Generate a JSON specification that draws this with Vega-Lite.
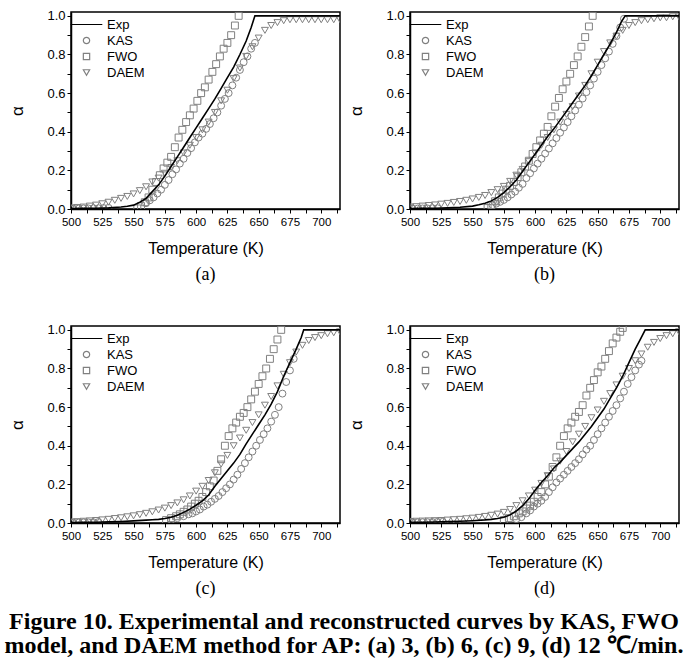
{
"$schema": "https://vega.github.io/schema/vega-lite/v6.json",
"padding": {"left": 3, "top": 9, "right": 0, "bottom": 0},
"background": "white",
"datasets": {
"a": [
{"s":"Exp","t":500,"v":0.002},{"s":"Exp","t":510,"v":0.003},{"s":"Exp","t":520,"v":0.004},{"s":"Exp","t":530,"v":0.006},{"s":"Exp","t":540,"v":0.01},{"s":"Exp","t":545,"v":0.014},{"s":"Exp","t":550,"v":0.02},{"s":"Exp","t":555,"v":0.035},{"s":"Exp","t":560,"v":0.055},{"s":"Exp","t":565,"v":0.09},{"s":"Exp","t":570,"v":0.125},{"s":"Exp","t":575,"v":0.17},{"s":"Exp","t":580,"v":0.22},{"s":"Exp","t":585,"v":0.27},{"s":"Exp","t":590,"v":0.32},{"s":"Exp","t":595,"v":0.37},{"s":"Exp","t":600,"v":0.42},{"s":"Exp","t":605,"v":0.47},{"s":"Exp","t":610,"v":0.52},{"s":"Exp","t":615,"v":0.57},{"s":"Exp","t":620,"v":0.625},{"s":"Exp","t":625,"v":0.68},{"s":"Exp","t":630,"v":0.735},{"s":"Exp","t":635,"v":0.8},{"s":"Exp","t":640,"v":0.87},{"s":"Exp","t":644,"v":0.94},{"s":"Exp","t":647,"v":1.0},{"s":"Exp","t":680,"v":1.0},{"s":"Exp","t":715,"v":1.0},
{"s":"KAS","t":502,"v":0.002},{"s":"KAS","t":506,"v":0.002},{"s":"KAS","t":510,"v":0.003},{"s":"KAS","t":514,"v":0.003},{"s":"KAS","t":518,"v":0.004},{"s":"KAS","t":522,"v":0.004},{"s":"KAS","t":526,"v":0.005},{"s":"KAS","t":530,"v":0.006},{"s":"KAS","t":560,"v":0.03},{"s":"KAS","t":563,"v":0.045},{"s":"KAS","t":566,"v":0.06},{"s":"KAS","t":569,"v":0.08},{"s":"KAS","t":572,"v":0.1},{"s":"KAS","t":575,"v":0.125},{"s":"KAS","t":578,"v":0.15},{"s":"KAS","t":581,"v":0.18},{"s":"KAS","t":584,"v":0.205},{"s":"KAS","t":587,"v":0.235},{"s":"KAS","t":590,"v":0.26},{"s":"KAS","t":593,"v":0.29},{"s":"KAS","t":596,"v":0.315},{"s":"KAS","t":599,"v":0.345},{"s":"KAS","t":602,"v":0.37},{"s":"KAS","t":605,"v":0.39},{"s":"KAS","t":608,"v":0.415},{"s":"KAS","t":611,"v":0.44},{"s":"KAS","t":614,"v":0.47},{"s":"KAS","t":617,"v":0.5},{"s":"KAS","t":620,"v":0.535},{"s":"KAS","t":623,"v":0.57},{"s":"KAS","t":626,"v":0.6},{"s":"KAS","t":629,"v":0.64},{"s":"KAS","t":632,"v":0.68},{"s":"KAS","t":635,"v":0.72},{"s":"KAS","t":638,"v":0.76},{"s":"KAS","t":641,"v":0.79},{"s":"KAS","t":644,"v":0.83},{"s":"KAS","t":647,"v":0.86},
{"s":"FWO","t":553,"v":0.003},{"s":"FWO","t":556,"v":0.015},{"s":"FWO","t":559,"v":0.035},{"s":"FWO","t":562,"v":0.06},{"s":"FWO","t":565,"v":0.1},{"s":"FWO","t":568,"v":0.14},{"s":"FWO","t":571,"v":0.175},{"s":"FWO","t":574,"v":0.21},{"s":"FWO","t":577,"v":0.24},{"s":"FWO","t":580,"v":0.27},{"s":"FWO","t":583,"v":0.32},{"s":"FWO","t":586,"v":0.37},{"s":"FWO","t":589,"v":0.41},{"s":"FWO","t":592,"v":0.45},{"s":"FWO","t":595,"v":0.485},{"s":"FWO","t":598,"v":0.52},{"s":"FWO","t":601,"v":0.56},{"s":"FWO","t":604,"v":0.6},{"s":"FWO","t":607,"v":0.63},{"s":"FWO","t":610,"v":0.67},{"s":"FWO","t":613,"v":0.71},{"s":"FWO","t":616,"v":0.75},{"s":"FWO","t":619,"v":0.79},{"s":"FWO","t":622,"v":0.83},{"s":"FWO","t":625,"v":0.86},{"s":"FWO","t":628,"v":0.9},{"s":"FWO","t":631,"v":0.95},{"s":"FWO","t":634,"v":1.0},
{"s":"DAEM","t":500,"v":0.005},{"s":"DAEM","t":505,"v":0.008},{"s":"DAEM","t":510,"v":0.01},{"s":"DAEM","t":515,"v":0.015},{"s":"DAEM","t":520,"v":0.02},{"s":"DAEM","t":525,"v":0.027},{"s":"DAEM","t":530,"v":0.035},{"s":"DAEM","t":535,"v":0.045},{"s":"DAEM","t":540,"v":0.055},{"s":"DAEM","t":545,"v":0.065},{"s":"DAEM","t":550,"v":0.078},{"s":"DAEM","t":555,"v":0.095},{"s":"DAEM","t":560,"v":0.115},{"s":"DAEM","t":565,"v":0.14},{"s":"DAEM","t":570,"v":0.16},{"s":"DAEM","t":575,"v":0.185},{"s":"DAEM","t":580,"v":0.215},{"s":"DAEM","t":585,"v":0.25},{"s":"DAEM","t":590,"v":0.29},{"s":"DAEM","t":595,"v":0.33},{"s":"DAEM","t":600,"v":0.37},{"s":"DAEM","t":605,"v":0.41},{"s":"DAEM","t":610,"v":0.45},{"s":"DAEM","t":615,"v":0.5},{"s":"DAEM","t":620,"v":0.56},{"s":"DAEM","t":625,"v":0.615},{"s":"DAEM","t":630,"v":0.675},{"s":"DAEM","t":635,"v":0.73},{"s":"DAEM","t":640,"v":0.79},{"s":"DAEM","t":645,"v":0.84},{"s":"DAEM","t":650,"v":0.885},{"s":"DAEM","t":655,"v":0.925},{"s":"DAEM","t":660,"v":0.95},{"s":"DAEM","t":665,"v":0.965},{"s":"DAEM","t":670,"v":0.975},{"s":"DAEM","t":675,"v":0.98},{"s":"DAEM","t":680,"v":0.98},{"s":"DAEM","t":685,"v":0.98},{"s":"DAEM","t":690,"v":0.98},{"s":"DAEM","t":695,"v":0.98},{"s":"DAEM","t":700,"v":0.98},{"s":"DAEM","t":705,"v":0.98},{"s":"DAEM","t":710,"v":0.98},{"s":"DAEM","t":715,"v":0.98}
],
"b": [
{"s":"Exp","t":500,"v":0.002},{"s":"Exp","t":510,"v":0.003},{"s":"Exp","t":520,"v":0.004},{"s":"Exp","t":530,"v":0.006},{"s":"Exp","t":540,"v":0.009},{"s":"Exp","t":550,"v":0.015},{"s":"Exp","t":555,"v":0.022},{"s":"Exp","t":560,"v":0.03},{"s":"Exp","t":565,"v":0.042},{"s":"Exp","t":570,"v":0.06},{"s":"Exp","t":575,"v":0.085},{"s":"Exp","t":580,"v":0.115},{"s":"Exp","t":585,"v":0.15},{"s":"Exp","t":590,"v":0.195},{"s":"Exp","t":595,"v":0.24},{"s":"Exp","t":600,"v":0.285},{"s":"Exp","t":605,"v":0.33},{"s":"Exp","t":610,"v":0.375},{"s":"Exp","t":615,"v":0.415},{"s":"Exp","t":620,"v":0.46},{"s":"Exp","t":625,"v":0.505},{"s":"Exp","t":630,"v":0.55},{"s":"Exp","t":635,"v":0.595},{"s":"Exp","t":640,"v":0.64},{"s":"Exp","t":645,"v":0.69},{"s":"Exp","t":650,"v":0.745},{"s":"Exp","t":655,"v":0.8},{"s":"Exp","t":660,"v":0.855},{"s":"Exp","t":665,"v":0.915},{"s":"Exp","t":669,"v":0.97},{"s":"Exp","t":672,"v":1.0},{"s":"Exp","t":690,"v":1.0},{"s":"Exp","t":715,"v":1.0},
{"s":"KAS","t":502,"v":0.002},{"s":"KAS","t":506,"v":0.002},{"s":"KAS","t":510,"v":0.003},{"s":"KAS","t":514,"v":0.003},{"s":"KAS","t":518,"v":0.004},{"s":"KAS","t":522,"v":0.004},{"s":"KAS","t":566,"v":0.02},{"s":"KAS","t":569,"v":0.028},{"s":"KAS","t":572,"v":0.037},{"s":"KAS","t":575,"v":0.047},{"s":"KAS","t":578,"v":0.06},{"s":"KAS","t":581,"v":0.075},{"s":"KAS","t":584,"v":0.09},{"s":"KAS","t":587,"v":0.11},{"s":"KAS","t":590,"v":0.13},{"s":"KAS","t":593,"v":0.16},{"s":"KAS","t":596,"v":0.185},{"s":"KAS","t":599,"v":0.21},{"s":"KAS","t":602,"v":0.235},{"s":"KAS","t":605,"v":0.26},{"s":"KAS","t":608,"v":0.287},{"s":"KAS","t":611,"v":0.313},{"s":"KAS","t":614,"v":0.34},{"s":"KAS","t":617,"v":0.367},{"s":"KAS","t":620,"v":0.395},{"s":"KAS","t":623,"v":0.422},{"s":"KAS","t":626,"v":0.45},{"s":"KAS","t":629,"v":0.48},{"s":"KAS","t":632,"v":0.51},{"s":"KAS","t":635,"v":0.54},{"s":"KAS","t":638,"v":0.572},{"s":"KAS","t":641,"v":0.605},{"s":"KAS","t":644,"v":0.64},{"s":"KAS","t":647,"v":0.675},{"s":"KAS","t":650,"v":0.71},{"s":"KAS","t":653,"v":0.745},{"s":"KAS","t":656,"v":0.78},{"s":"KAS","t":659,"v":0.815},{"s":"KAS","t":662,"v":0.855},{"s":"KAS","t":665,"v":0.895},{"s":"KAS","t":668,"v":0.94},{"s":"KAS","t":671,"v":0.985},
{"s":"FWO","t":562,"v":0.005},{"s":"FWO","t":565,"v":0.02},{"s":"FWO","t":568,"v":0.04},{"s":"FWO","t":571,"v":0.06},{"s":"FWO","t":574,"v":0.08},{"s":"FWO","t":577,"v":0.1},{"s":"FWO","t":580,"v":0.12},{"s":"FWO","t":583,"v":0.14},{"s":"FWO","t":586,"v":0.165},{"s":"FWO","t":589,"v":0.19},{"s":"FWO","t":592,"v":0.22},{"s":"FWO","t":595,"v":0.25},{"s":"FWO","t":598,"v":0.285},{"s":"FWO","t":601,"v":0.32},{"s":"FWO","t":604,"v":0.355},{"s":"FWO","t":607,"v":0.39},{"s":"FWO","t":610,"v":0.425},{"s":"FWO","t":613,"v":0.48},{"s":"FWO","t":616,"v":0.53},{"s":"FWO","t":619,"v":0.575},{"s":"FWO","t":622,"v":0.62},{"s":"FWO","t":625,"v":0.66},{"s":"FWO","t":628,"v":0.7},{"s":"FWO","t":631,"v":0.745},{"s":"FWO","t":634,"v":0.79},{"s":"FWO","t":637,"v":0.84},{"s":"FWO","t":640,"v":0.89},{"s":"FWO","t":643,"v":0.945},{"s":"FWO","t":646,"v":1.0},
{"s":"DAEM","t":500,"v":0.01},{"s":"DAEM","t":505,"v":0.012},{"s":"DAEM","t":510,"v":0.015},{"s":"DAEM","t":515,"v":0.018},{"s":"DAEM","t":520,"v":0.021},{"s":"DAEM","t":525,"v":0.025},{"s":"DAEM","t":530,"v":0.029},{"s":"DAEM","t":535,"v":0.034},{"s":"DAEM","t":540,"v":0.039},{"s":"DAEM","t":545,"v":0.045},{"s":"DAEM","t":550,"v":0.052},{"s":"DAEM","t":555,"v":0.06},{"s":"DAEM","t":560,"v":0.07},{"s":"DAEM","t":565,"v":0.085},{"s":"DAEM","t":570,"v":0.1},{"s":"DAEM","t":575,"v":0.117},{"s":"DAEM","t":580,"v":0.143},{"s":"DAEM","t":585,"v":0.175},{"s":"DAEM","t":590,"v":0.205},{"s":"DAEM","t":595,"v":0.245},{"s":"DAEM","t":600,"v":0.29},{"s":"DAEM","t":605,"v":0.33},{"s":"DAEM","t":610,"v":0.37},{"s":"DAEM","t":615,"v":0.41},{"s":"DAEM","t":620,"v":0.45},{"s":"DAEM","t":625,"v":0.49},{"s":"DAEM","t":630,"v":0.53},{"s":"DAEM","t":635,"v":0.585},{"s":"DAEM","t":640,"v":0.64},{"s":"DAEM","t":645,"v":0.7},{"s":"DAEM","t":650,"v":0.76},{"s":"DAEM","t":655,"v":0.815},{"s":"DAEM","t":660,"v":0.86},{"s":"DAEM","t":665,"v":0.895},{"s":"DAEM","t":670,"v":0.925},{"s":"DAEM","t":675,"v":0.95},{"s":"DAEM","t":680,"v":0.965},{"s":"DAEM","t":685,"v":0.975},{"s":"DAEM","t":690,"v":0.98},{"s":"DAEM","t":695,"v":0.985},{"s":"DAEM","t":700,"v":0.99},{"s":"DAEM","t":705,"v":0.99},{"s":"DAEM","t":710,"v":0.995},{"s":"DAEM","t":715,"v":0.995}
],
"c": [
{"s":"Exp","t":500,"v":0.002},{"s":"Exp","t":510,"v":0.003},{"s":"Exp","t":520,"v":0.004},{"s":"Exp","t":530,"v":0.006},{"s":"Exp","t":540,"v":0.008},{"s":"Exp","t":550,"v":0.011},{"s":"Exp","t":560,"v":0.015},{"s":"Exp","t":565,"v":0.017},{"s":"Exp","t":570,"v":0.019},{"s":"Exp","t":575,"v":0.023},{"s":"Exp","t":580,"v":0.03},{"s":"Exp","t":585,"v":0.04},{"s":"Exp","t":590,"v":0.055},{"s":"Exp","t":595,"v":0.072},{"s":"Exp","t":600,"v":0.092},{"s":"Exp","t":605,"v":0.115},{"s":"Exp","t":610,"v":0.145},{"s":"Exp","t":615,"v":0.19},{"s":"Exp","t":620,"v":0.23},{"s":"Exp","t":625,"v":0.27},{"s":"Exp","t":630,"v":0.31},{"s":"Exp","t":635,"v":0.355},{"s":"Exp","t":640,"v":0.41},{"s":"Exp","t":645,"v":0.46},{"s":"Exp","t":650,"v":0.51},{"s":"Exp","t":655,"v":0.56},{"s":"Exp","t":660,"v":0.615},{"s":"Exp","t":665,"v":0.68},{"s":"Exp","t":670,"v":0.76},{"s":"Exp","t":675,"v":0.83},{"s":"Exp","t":680,"v":0.9},{"s":"Exp","t":684,"v":0.96},{"s":"Exp","t":686,"v":1.0},{"s":"Exp","t":700,"v":1.0},{"s":"Exp","t":715,"v":1.0},
{"s":"KAS","t":502,"v":0.002},{"s":"KAS","t":506,"v":0.002},{"s":"KAS","t":510,"v":0.003},{"s":"KAS","t":514,"v":0.003},{"s":"KAS","t":518,"v":0.004},{"s":"KAS","t":522,"v":0.005},{"s":"KAS","t":580,"v":0.015},{"s":"KAS","t":585,"v":0.025},{"s":"KAS","t":590,"v":0.035},{"s":"KAS","t":594,"v":0.045},{"s":"KAS","t":597,"v":0.05},{"s":"KAS","t":600,"v":0.06},{"s":"KAS","t":603,"v":0.07},{"s":"KAS","t":606,"v":0.085},{"s":"KAS","t":609,"v":0.095},{"s":"KAS","t":612,"v":0.11},{"s":"KAS","t":615,"v":0.125},{"s":"KAS","t":618,"v":0.14},{"s":"KAS","t":621,"v":0.16},{"s":"KAS","t":624,"v":0.18},{"s":"KAS","t":627,"v":0.2},{"s":"KAS","t":630,"v":0.225},{"s":"KAS","t":633,"v":0.25},{"s":"KAS","t":636,"v":0.28},{"s":"KAS","t":639,"v":0.31},{"s":"KAS","t":642,"v":0.34},{"s":"KAS","t":645,"v":0.37},{"s":"KAS","t":648,"v":0.4},{"s":"KAS","t":651,"v":0.43},{"s":"KAS","t":654,"v":0.46},{"s":"KAS","t":657,"v":0.49},{"s":"KAS","t":660,"v":0.525},{"s":"KAS","t":663,"v":0.56},{"s":"KAS","t":666,"v":0.6},{"s":"KAS","t":669,"v":0.67},{"s":"KAS","t":672,"v":0.73},{"s":"KAS","t":675,"v":0.79},{"s":"KAS","t":678,"v":0.85},
{"s":"FWO","t":576,"v":0.015},{"s":"FWO","t":580,"v":0.025},{"s":"FWO","t":584,"v":0.035},{"s":"FWO","t":587,"v":0.045},{"s":"FWO","t":590,"v":0.058},{"s":"FWO","t":593,"v":0.07},{"s":"FWO","t":596,"v":0.085},{"s":"FWO","t":599,"v":0.1},{"s":"FWO","t":602,"v":0.115},{"s":"FWO","t":605,"v":0.135},{"s":"FWO","t":608,"v":0.16},{"s":"FWO","t":611,"v":0.19},{"s":"FWO","t":614,"v":0.22},{"s":"FWO","t":617,"v":0.27},{"s":"FWO","t":620,"v":0.33},{"s":"FWO","t":623,"v":0.4},{"s":"FWO","t":626,"v":0.45},{"s":"FWO","t":629,"v":0.49},{"s":"FWO","t":632,"v":0.52},{"s":"FWO","t":635,"v":0.55},{"s":"FWO","t":638,"v":0.57},{"s":"FWO","t":641,"v":0.6},{"s":"FWO","t":644,"v":0.64},{"s":"FWO","t":647,"v":0.68},{"s":"FWO","t":650,"v":0.72},{"s":"FWO","t":653,"v":0.76},{"s":"FWO","t":656,"v":0.8},{"s":"FWO","t":659,"v":0.85},{"s":"FWO","t":662,"v":0.9},{"s":"FWO","t":665,"v":0.95},{"s":"FWO","t":668,"v":1.0},
{"s":"DAEM","t":500,"v":0.005},{"s":"DAEM","t":505,"v":0.007},{"s":"DAEM","t":510,"v":0.009},{"s":"DAEM","t":515,"v":0.011},{"s":"DAEM","t":520,"v":0.013},{"s":"DAEM","t":525,"v":0.016},{"s":"DAEM","t":530,"v":0.019},{"s":"DAEM","t":535,"v":0.023},{"s":"DAEM","t":540,"v":0.027},{"s":"DAEM","t":545,"v":0.032},{"s":"DAEM","t":550,"v":0.037},{"s":"DAEM","t":555,"v":0.043},{"s":"DAEM","t":560,"v":0.05},{"s":"DAEM","t":565,"v":0.058},{"s":"DAEM","t":570,"v":0.067},{"s":"DAEM","t":575,"v":0.077},{"s":"DAEM","t":580,"v":0.09},{"s":"DAEM","t":585,"v":0.104},{"s":"DAEM","t":590,"v":0.12},{"s":"DAEM","t":595,"v":0.14},{"s":"DAEM","t":600,"v":0.165},{"s":"DAEM","t":605,"v":0.19},{"s":"DAEM","t":610,"v":0.22},{"s":"DAEM","t":615,"v":0.26},{"s":"DAEM","t":620,"v":0.305},{"s":"DAEM","t":625,"v":0.35},{"s":"DAEM","t":630,"v":0.4},{"s":"DAEM","t":635,"v":0.44},{"s":"DAEM","t":640,"v":0.48},{"s":"DAEM","t":645,"v":0.52},{"s":"DAEM","t":650,"v":0.56},{"s":"DAEM","t":655,"v":0.61},{"s":"DAEM","t":660,"v":0.655},{"s":"DAEM","t":665,"v":0.71},{"s":"DAEM","t":670,"v":0.77},{"s":"DAEM","t":675,"v":0.83},{"s":"DAEM","t":680,"v":0.885},{"s":"DAEM","t":685,"v":0.92},{"s":"DAEM","t":690,"v":0.945},{"s":"DAEM","t":695,"v":0.96},{"s":"DAEM","t":700,"v":0.97},{"s":"DAEM","t":705,"v":0.98},{"s":"DAEM","t":710,"v":0.985},{"s":"DAEM","t":715,"v":0.99}
],
"d": [
{"s":"Exp","t":500,"v":0.003},{"s":"Exp","t":510,"v":0.004},{"s":"Exp","t":520,"v":0.005},{"s":"Exp","t":530,"v":0.007},{"s":"Exp","t":540,"v":0.009},{"s":"Exp","t":550,"v":0.012},{"s":"Exp","t":560,"v":0.016},{"s":"Exp","t":565,"v":0.019},{"s":"Exp","t":570,"v":0.023},{"s":"Exp","t":575,"v":0.03},{"s":"Exp","t":580,"v":0.042},{"s":"Exp","t":585,"v":0.062},{"s":"Exp","t":590,"v":0.09},{"s":"Exp","t":595,"v":0.125},{"s":"Exp","t":600,"v":0.17},{"s":"Exp","t":605,"v":0.21},{"s":"Exp","t":610,"v":0.245},{"s":"Exp","t":615,"v":0.285},{"s":"Exp","t":620,"v":0.315},{"s":"Exp","t":625,"v":0.35},{"s":"Exp","t":630,"v":0.385},{"s":"Exp","t":635,"v":0.42},{"s":"Exp","t":640,"v":0.46},{"s":"Exp","t":645,"v":0.5},{"s":"Exp","t":650,"v":0.545},{"s":"Exp","t":655,"v":0.59},{"s":"Exp","t":660,"v":0.645},{"s":"Exp","t":665,"v":0.7},{"s":"Exp","t":670,"v":0.76},{"s":"Exp","t":675,"v":0.83},{"s":"Exp","t":680,"v":0.9},{"s":"Exp","t":684,"v":0.95},{"s":"Exp","t":688,"v":1.0},{"s":"Exp","t":700,"v":1.0},{"s":"Exp","t":715,"v":1.0},
{"s":"KAS","t":502,"v":0.003},{"s":"KAS","t":506,"v":0.003},{"s":"KAS","t":510,"v":0.004},{"s":"KAS","t":514,"v":0.004},{"s":"KAS","t":518,"v":0.005},{"s":"KAS","t":522,"v":0.006},{"s":"KAS","t":526,"v":0.006},{"s":"KAS","t":585,"v":0.02},{"s":"KAS","t":589,"v":0.03},{"s":"KAS","t":593,"v":0.05},{"s":"KAS","t":596,"v":0.065},{"s":"KAS","t":599,"v":0.085},{"s":"KAS","t":602,"v":0.1},{"s":"KAS","t":605,"v":0.115},{"s":"KAS","t":608,"v":0.135},{"s":"KAS","t":611,"v":0.16},{"s":"KAS","t":614,"v":0.185},{"s":"KAS","t":617,"v":0.21},{"s":"KAS","t":620,"v":0.23},{"s":"KAS","t":623,"v":0.25},{"s":"KAS","t":626,"v":0.27},{"s":"KAS","t":629,"v":0.29},{"s":"KAS","t":632,"v":0.31},{"s":"KAS","t":635,"v":0.33},{"s":"KAS","t":638,"v":0.355},{"s":"KAS","t":641,"v":0.38},{"s":"KAS","t":644,"v":0.4},{"s":"KAS","t":647,"v":0.43},{"s":"KAS","t":650,"v":0.46},{"s":"KAS","t":653,"v":0.49},{"s":"KAS","t":656,"v":0.52},{"s":"KAS","t":659,"v":0.55},{"s":"KAS","t":662,"v":0.58},{"s":"KAS","t":665,"v":0.61},{"s":"KAS","t":668,"v":0.645},{"s":"KAS","t":671,"v":0.68},{"s":"KAS","t":674,"v":0.72},{"s":"KAS","t":677,"v":0.755},{"s":"KAS","t":680,"v":0.79},{"s":"KAS","t":683,"v":0.82},{"s":"KAS","t":685,"v":0.84},
{"s":"FWO","t":575,"v":0.015},{"s":"FWO","t":579,"v":0.025},{"s":"FWO","t":583,"v":0.035},{"s":"FWO","t":587,"v":0.05},{"s":"FWO","t":590,"v":0.06},{"s":"FWO","t":593,"v":0.075},{"s":"FWO","t":596,"v":0.09},{"s":"FWO","t":599,"v":0.11},{"s":"FWO","t":602,"v":0.135},{"s":"FWO","t":605,"v":0.16},{"s":"FWO","t":608,"v":0.2},{"s":"FWO","t":611,"v":0.24},{"s":"FWO","t":614,"v":0.29},{"s":"FWO","t":617,"v":0.34},{"s":"FWO","t":620,"v":0.4},{"s":"FWO","t":623,"v":0.45},{"s":"FWO","t":626,"v":0.49},{"s":"FWO","t":629,"v":0.52},{"s":"FWO","t":632,"v":0.55},{"s":"FWO","t":635,"v":0.575},{"s":"FWO","t":638,"v":0.61},{"s":"FWO","t":641,"v":0.66},{"s":"FWO","t":644,"v":0.7},{"s":"FWO","t":647,"v":0.74},{"s":"FWO","t":650,"v":0.78},{"s":"FWO","t":653,"v":0.81},{"s":"FWO","t":656,"v":0.85},{"s":"FWO","t":659,"v":0.89},{"s":"FWO","t":662,"v":0.93},{"s":"FWO","t":665,"v":0.96},{"s":"FWO","t":668,"v":0.99},{"s":"FWO","t":670,"v":1.01},
{"s":"DAEM","t":500,"v":0.008},{"s":"DAEM","t":505,"v":0.009},{"s":"DAEM","t":510,"v":0.01},{"s":"DAEM","t":515,"v":0.011},{"s":"DAEM","t":520,"v":0.012},{"s":"DAEM","t":525,"v":0.013},{"s":"DAEM","t":530,"v":0.015},{"s":"DAEM","t":535,"v":0.017},{"s":"DAEM","t":540,"v":0.019},{"s":"DAEM","t":545,"v":0.022},{"s":"DAEM","t":550,"v":0.025},{"s":"DAEM","t":555,"v":0.029},{"s":"DAEM","t":560,"v":0.034},{"s":"DAEM","t":565,"v":0.04},{"s":"DAEM","t":570,"v":0.046},{"s":"DAEM","t":575,"v":0.055},{"s":"DAEM","t":580,"v":0.07},{"s":"DAEM","t":585,"v":0.09},{"s":"DAEM","t":590,"v":0.115},{"s":"DAEM","t":595,"v":0.14},{"s":"DAEM","t":600,"v":0.17},{"s":"DAEM","t":605,"v":0.205},{"s":"DAEM","t":610,"v":0.245},{"s":"DAEM","t":615,"v":0.28},{"s":"DAEM","t":620,"v":0.32},{"s":"DAEM","t":625,"v":0.37},{"s":"DAEM","t":630,"v":0.42},{"s":"DAEM","t":635,"v":0.46},{"s":"DAEM","t":640,"v":0.5},{"s":"DAEM","t":645,"v":0.545},{"s":"DAEM","t":650,"v":0.585},{"s":"DAEM","t":655,"v":0.63},{"s":"DAEM","t":660,"v":0.67},{"s":"DAEM","t":665,"v":0.715},{"s":"DAEM","t":670,"v":0.76},{"s":"DAEM","t":675,"v":0.8},{"s":"DAEM","t":680,"v":0.84},{"s":"DAEM","t":685,"v":0.875},{"s":"DAEM","t":690,"v":0.91},{"s":"DAEM","t":695,"v":0.935},{"s":"DAEM","t":700,"v":0.955},{"s":"DAEM","t":705,"v":0.97},{"s":"DAEM","t":710,"v":0.98},{"s":"DAEM","t":715,"v":0.99}
]
},
"title": {"text": ["Figure 10. Experimental and reconstructed curves by KAS, FWO", "model, and DAEM method for AP: (a) 3, (b) 6, (c) 9, (d) 12 \u2103/min."], "orient": "bottom", "anchor": "middle", "font": "Liberation Serif", "fontSize": 24, "fontWeight": "bold", "lineHeight": 24, "color": "#000", "offset": 12},
"vconcat": [
{"hconcat": [
{"width": 269, "height": 197, "data": {"name": "a"},
 "title": {"text": "(a)", "orient": "bottom", "font": "Liberation Serif", "fontSize": 18, "fontWeight": "normal", "color": "#000", "offset": 9},
 "encoding": {
  "x": {"field": "t", "type": "quantitative", "scale": {"domain": [500, 715], "nice": false, "zero": false}, "axis": {"title": "Temperature (K)", "values": [500,512.5,525,537.5,550,562.5,575,587.5,600,612.5,625,637.5,650,662.5,675,687.5,700,712.5], "labelExpr": "datum.value % 25 == 0 ? datum.label : ''"}},
  "y": {"field": "v", "type": "quantitative", "scale": {"domain": [0, 1.02], "nice": false}, "axis": {"title": "\u03b1", "values": [0,0.1,0.2,0.3,0.4,0.5,0.6,0.7,0.8,0.9,1.0], "labelExpr": "abs(datum.value*10 - 2*round(datum.value*5)) < 0.01 ? format(datum.value, '.1f') : ''"}}
 },
 "layer": [
  {"transform": [{"filter": "datum.s != 'Exp'"}], "mark": {"type": "point", "filled": false, "size": 48, "strokeWidth": 1, "opacity": 1, "clip": true},
   "encoding": {"stroke": {"field": "s", "type": "nominal", "scale": {"domain": ["Exp","KAS","FWO","DAEM"], "range": ["#000000","#808080","#808080","#808080"]}, "legend": {"title": null}},
                "shape": {"field": "s", "type": "nominal", "scale": {"domain": ["Exp","KAS","FWO","DAEM"], "range": ["M-5,0H5","circle","square","triangle-down"]}, "legend": {"title": null}}}},
  {"transform": [{"filter": "datum.s == 'Exp'"}], "mark": {"type": "line", "color": "#000", "strokeWidth": 1.6, "clip": true}, "encoding": {}}
 ]},
{"width": 269, "height": 197, "data": {"name": "b"},
 "title": {"text": "(b)", "orient": "bottom", "font": "Liberation Serif", "fontSize": 18, "fontWeight": "normal", "color": "#000", "offset": 9},
 "encoding": {
  "x": {"field": "t", "type": "quantitative", "scale": {"domain": [500, 715], "nice": false, "zero": false}, "axis": {"title": "Temperature (K)", "values": [500,512.5,525,537.5,550,562.5,575,587.5,600,612.5,625,637.5,650,662.5,675,687.5,700,712.5], "labelExpr": "datum.value % 25 == 0 ? datum.label : ''"}},
  "y": {"field": "v", "type": "quantitative", "scale": {"domain": [0, 1.02], "nice": false}, "axis": {"title": "\u03b1", "values": [0,0.1,0.2,0.3,0.4,0.5,0.6,0.7,0.8,0.9,1.0], "labelExpr": "abs(datum.value*10 - 2*round(datum.value*5)) < 0.01 ? format(datum.value, '.1f') : ''"}}
 },
 "layer": [
  {"transform": [{"filter": "datum.s != 'Exp'"}], "mark": {"type": "point", "filled": false, "size": 48, "strokeWidth": 1, "opacity": 1, "clip": true},
   "encoding": {"stroke": {"field": "s", "type": "nominal", "scale": {"domain": ["Exp","KAS","FWO","DAEM"], "range": ["#000000","#808080","#808080","#808080"]}, "legend": {"title": null}},
                "shape": {"field": "s", "type": "nominal", "scale": {"domain": ["Exp","KAS","FWO","DAEM"], "range": ["M-5,0H5","circle","square","triangle-down"]}, "legend": {"title": null}}}},
  {"transform": [{"filter": "datum.s == 'Exp'"}], "mark": {"type": "line", "color": "#000", "strokeWidth": 1.6, "clip": true}, "encoding": {}}
 ]}
], "spacing": 6, "resolve": {"scale": {"x": "independent", "y": "independent", "stroke": "independent", "shape": "independent"}, "axis": {"x": "independent", "y": "independent"}, "legend": {"stroke": "independent", "shape": "independent"}}},
{"hconcat": [
{"width": 269, "height": 197, "data": {"name": "c"},
 "title": {"text": "(c)", "orient": "bottom", "font": "Liberation Serif", "fontSize": 18, "fontWeight": "normal", "color": "#000", "offset": 9},
 "encoding": {
  "x": {"field": "t", "type": "quantitative", "scale": {"domain": [500, 715], "nice": false, "zero": false}, "axis": {"title": "Temperature (K)", "values": [500,512.5,525,537.5,550,562.5,575,587.5,600,612.5,625,637.5,650,662.5,675,687.5,700,712.5], "labelExpr": "datum.value % 25 == 0 ? datum.label : ''"}},
  "y": {"field": "v", "type": "quantitative", "scale": {"domain": [0, 1.02], "nice": false}, "axis": {"title": "\u03b1", "values": [0,0.1,0.2,0.3,0.4,0.5,0.6,0.7,0.8,0.9,1.0], "labelExpr": "abs(datum.value*10 - 2*round(datum.value*5)) < 0.01 ? format(datum.value, '.1f') : ''"}}
 },
 "layer": [
  {"transform": [{"filter": "datum.s != 'Exp'"}], "mark": {"type": "point", "filled": false, "size": 48, "strokeWidth": 1, "opacity": 1, "clip": true},
   "encoding": {"stroke": {"field": "s", "type": "nominal", "scale": {"domain": ["Exp","KAS","FWO","DAEM"], "range": ["#000000","#808080","#808080","#808080"]}, "legend": {"title": null}},
                "shape": {"field": "s", "type": "nominal", "scale": {"domain": ["Exp","KAS","FWO","DAEM"], "range": ["M-5,0H5","circle","square","triangle-down"]}, "legend": {"title": null}}}},
  {"transform": [{"filter": "datum.s == 'Exp'"}], "mark": {"type": "line", "color": "#000", "strokeWidth": 1.6, "clip": true}, "encoding": {}}
 ]},
{"width": 269, "height": 197, "data": {"name": "d"},
 "title": {"text": "(d)", "orient": "bottom", "font": "Liberation Serif", "fontSize": 18, "fontWeight": "normal", "color": "#000", "offset": 9},
 "encoding": {
  "x": {"field": "t", "type": "quantitative", "scale": {"domain": [500, 715], "nice": false, "zero": false}, "axis": {"title": "Temperature (K)", "values": [500,512.5,525,537.5,550,562.5,575,587.5,600,612.5,625,637.5,650,662.5,675,687.5,700,712.5], "labelExpr": "datum.value % 25 == 0 ? datum.label : ''"}},
  "y": {"field": "v", "type": "quantitative", "scale": {"domain": [0, 1.02], "nice": false}, "axis": {"title": "\u03b1", "values": [0,0.1,0.2,0.3,0.4,0.5,0.6,0.7,0.8,0.9,1.0], "labelExpr": "abs(datum.value*10 - 2*round(datum.value*5)) < 0.01 ? format(datum.value, '.1f') : ''"}}
 },
 "layer": [
  {"transform": [{"filter": "datum.s != 'Exp'"}], "mark": {"type": "point", "filled": false, "size": 48, "strokeWidth": 1, "opacity": 1, "clip": true},
   "encoding": {"stroke": {"field": "s", "type": "nominal", "scale": {"domain": ["Exp","KAS","FWO","DAEM"], "range": ["#000000","#808080","#808080","#808080"]}, "legend": {"title": null}},
                "shape": {"field": "s", "type": "nominal", "scale": {"domain": ["Exp","KAS","FWO","DAEM"], "range": ["M-5,0H5","circle","square","triangle-down"]}, "legend": {"title": null}}}},
  {"transform": [{"filter": "datum.s == 'Exp'"}], "mark": {"type": "line", "color": "#000", "strokeWidth": 1.6, "clip": true}, "encoding": {}}
 ]}
], "spacing": 6, "resolve": {"scale": {"x": "independent", "y": "independent", "stroke": "independent", "shape": "independent"}, "axis": {"x": "independent", "y": "independent"}, "legend": {"stroke": "independent", "shape": "independent"}}}
],
"spacing": 38,
"resolve": {"scale": {"x": "independent", "y": "independent", "stroke": "independent", "shape": "independent"}, "axis": {"x": "independent", "y": "independent"}, "legend": {"stroke": "independent", "shape": "independent"}},
"config": {
 "view": {"stroke": "#000", "strokeWidth": 1.5},
 "axis": {"domainColor": "#000", "domainWidth": 1.5, "tickColor": "#000", "tickWidth": 1, "tickSize": 4, "labelColor": "#000", "titleColor": "#000", "labelFont": "Liberation Sans", "titleFont": "Liberation Sans", "titleFontWeight": "normal", "grid": false, "labelFlush": false, "labelOverlap": false},
 "axisX": {"labelFontSize": 11.5, "titleFontSize": 16, "labelPadding": 3, "titlePadding": 13},
 "axisY": {"labelFontSize": 13, "titleFontSize": 17, "labelPadding": 2, "titlePadding": 20},
 "legend": {"orient": "top-left", "offset": 6, "labelFont": "Liberation Sans", "labelFontSize": 13, "labelColor": "#000", "symbolSize": 40, "symbolStrokeWidth": 1.2, "symbolOffset": 3, "labelOffset": 14, "rowPadding": 2, "padding": 0}
}
}
